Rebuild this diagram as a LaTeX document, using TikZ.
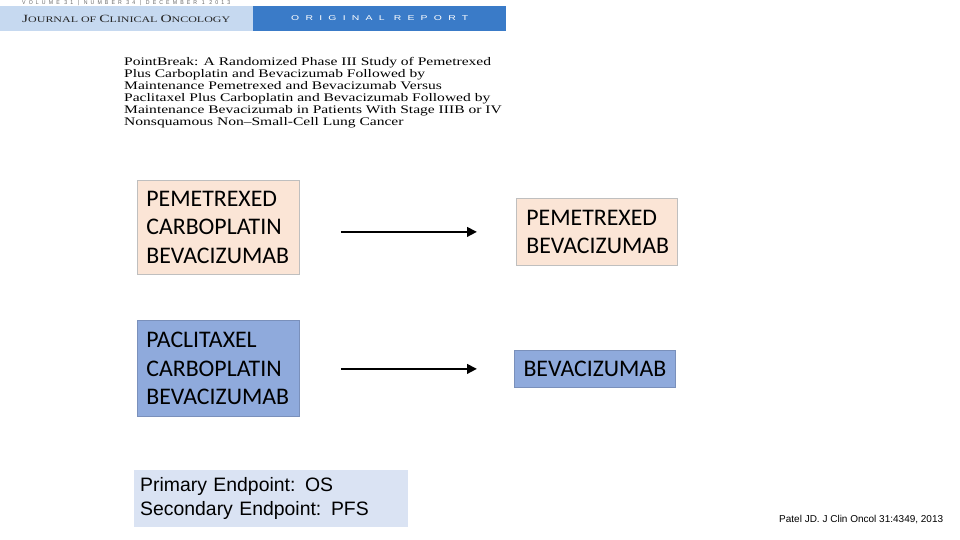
\documentclass[tikz,border=0pt]{standalone}
\usepackage{graphicx}
\usepackage{fontspec}
\setmainfont{Carlito}
\newfontfamily\arialfont{Liberation Sans}
\newfontfamily\journalfont{Liberation Serif}
\newfontfamily\reportfont[LetterSpace=60]{Liberation Sans}
\usetikzlibrary{arrows.meta}

\definecolor{peach}{HTML}{FBE5D6}
\definecolor{armblue}{HTML}{8FAADC}
\definecolor{endptblue}{HTML}{DAE3F3}
\definecolor{jcolight}{HTML}{C6D9F0}
\definecolor{jcodark}{HTML}{3A7BC8}
\definecolor{boxline}{HTML}{BFBFBF}

\begin{document}
\begin{tikzpicture}[x=1pt,y=-1pt,
    regimen/.style={anchor=north west,inner sep=0pt,align=left,
        font=\fontsize{23.8}{28.5}\selectfont},
    peachbox/.style={regimen,fill=peach,draw=boxline,line width=0.8pt},
    bluebox/.style={regimen,fill=armblue,draw=armblue!85!black,line width=0.8pt},
    treat/.style={line width=2.6pt,-{Triangle[length=10pt,width=9.5pt]},
        shorten <=41pt,shorten >=39pt}]
    \useasboundingbox (0,0) rectangle (960,540);
    \fill[white] (0,0) rectangle (960,540);

    % journal header
    \fill[jcolight] (0,6) rectangle (253,31);
    \fill[jcodark]  (253,6) rectangle (506,31);
    \node (volume) [anchor=west,inner sep=0pt,text=black!60] at (22,3)
        {\resizebox{208pt}{\height}{\reportfont\fontsize{5.6}{6}\selectfont VOLUME 31 | NUMBER 34 | DECEMBER 1 2013}};
    \node (journal) [anchor=west,inner sep=0pt,text=black!85] at (22,18.5)
        {\resizebox{208pt}{\height}{\journalfont{\fontsize{11}{11}\selectfont J}{\fontsize{8.5}{9}\selectfont OURNAL OF }{\fontsize{11}{11}\selectfont C}{\fontsize{8.5}{9}\selectfont LINICAL }{\fontsize{11}{11}\selectfont O}{\fontsize{8.5}{9}\selectfont NCOLOGY}}};
    \node (report) [anchor=west,inner sep=0pt,text=white] at (291,18.5)
        {\resizebox{177pt}{\height}{\reportfont\fontsize{7}{8}\selectfont ORIGINAL REPORT}};
    \node (title) [anchor=north west,inner sep=0pt] at (124,57)
        {\scalebox{1.34}[1]{\journalfont\fontsize{11.6}{11.9}\selectfont
        \begin{tabular}{@{}l@{}}
        PointBreak: A Randomized Phase III Study of Pemetrexed\\
        Plus Carboplatin and Bevacizumab Followed by\\
        Maintenance Pemetrexed and Bevacizumab Versus\\
        Paclitaxel Plus Carboplatin and Bevacizumab Followed by\\
        Maintenance Bevacizumab in Patients With Stage IIIB or IV\\
        Nonsquamous Non–Small-Cell Lung Cancer
        \end{tabular}}};

    % arms
    \node (pemarm) [peachbox,minimum width=162pt,minimum height=94pt,text width=144pt] at (137,180)
        {PEMETREXED\\CARBOPLATIN\\BEVACIZUMAB};
    \node (pemmaint) [peachbox,minimum width=161pt,minimum height=67pt,text width=141pt] at (516,198)
        {PEMETREXED\\BEVACIZUMAB};
    \node (pacarm) [bluebox,minimum width=162pt,minimum height=96pt,text width=144pt] at (137,320)
        {PACLITAXEL\\CARBOPLATIN\\BEVACIZUMAB};
    \node (pacmaint) [bluebox,align=center,minimum width=161pt,minimum height=37pt] at (514,350)
        {BEVACIZUMAB};
    \draw [treat] (pemarm.east |- pemmaint.west) -- (pemmaint.west);
    \draw [treat,shorten >=37pt] (pacarm.east |- pacmaint.west) -- (pacmaint.west);

    % endpoints and reference
    \node (endpoints) [anchor=north west,inner sep=0pt,fill=endptblue,align=left,
        minimum width=274pt,minimum height=57pt,text width=262pt,
        font=\arialfont\fontsize{19.4}{24}\selectfont] at (134,470)
        {Primary Endpoint: OS\\Secondary Endpoint: PFS};
    \node (citation) [anchor=west,inner sep=0pt,font=\arialfont\fontsize{10}{11}\selectfont] at (779,519.5)
        {Patel JD. J Clin Oncol 31:4349, 2013};
\end{tikzpicture}
\end{document}
